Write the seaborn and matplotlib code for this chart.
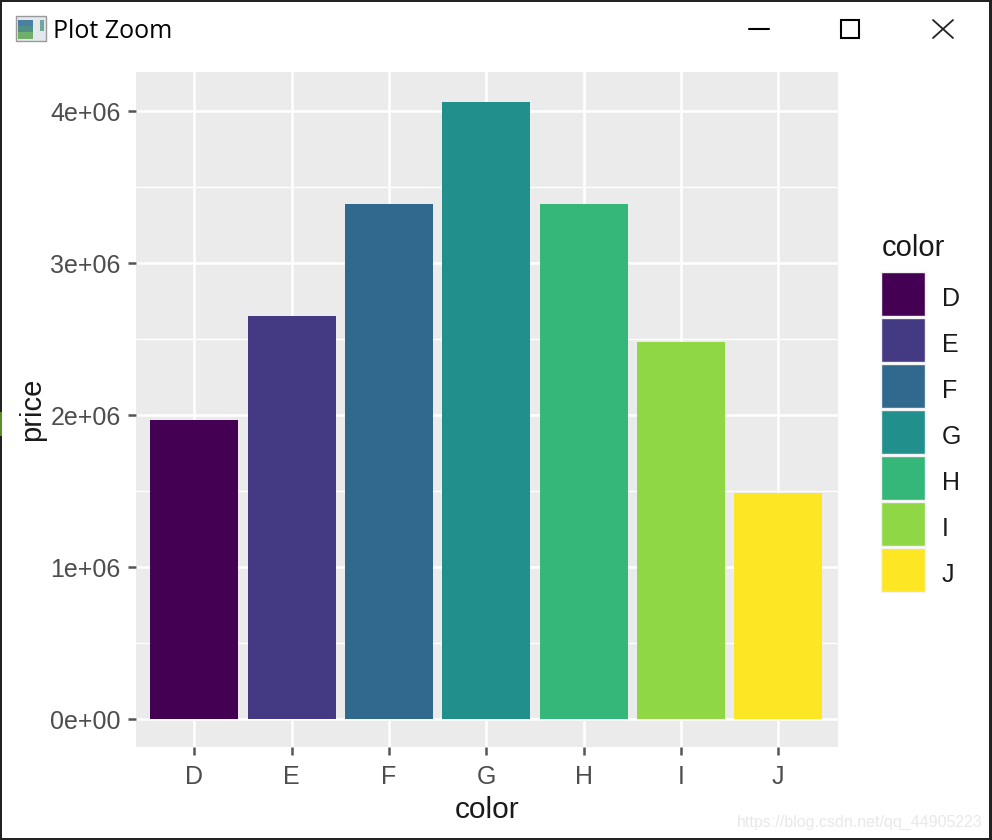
import matplotlib
matplotlib.use("Agg")
import matplotlib.pyplot as plt
from matplotlib.patches import Patch, Rectangle
from matplotlib.ticker import FixedLocator
import pandas as pd
import seaborn as sns

# ----------- Data -----------

colors = ["D", "E", "F", "G", "H", "I", "J"]
prices = [1.967e6, 2.650e6, 3.388e6, 4.060e6, 3.388e6, 2.480e6, 1.487e6]
bar_colors = ["#440154", "#443983", "#31688E", "#21908C", "#35B779", "#8FD744", "#FDE725"]
y_ticks = [0, 1e6, 2e6, 3e6, 4e6]
y_tick_labels = ["0e+00", "1e+06", "2e+06", "3e+06", "4e+06"]
y_minor_ticks = [0.5e6, 1.5e6, 2.5e6, 3.5e6]

df = pd.DataFrame({"color": colors, "price": prices})

# ----------- Theme -----------

sns.set_theme(style="darkgrid", rc={"axes.facecolor": "#EBEBEB", "grid.color": "white"})
plt.rcParams["font.family"] = ["Liberation Sans", "DejaVu Sans"]

W, H = 992, 840
fig = plt.figure(figsize=(W / 100, H / 100), dpi=100, facecolor="white")
ax = fig.add_axes([136 / W, 1 - 747 / H, 702 / W, 675 / H])

# ----------- Bars -----------

sns.barplot(data=df, x="color", y="price", hue="color", palette=bar_colors,
            width=0.905, saturation=1, dodge=False, legend=False, linewidth=0, ax=ax)

ax.set_xlim(-0.6, 6.615)
ax.set_ylim(-0.184e6, 4.257e6)
ax.set_yticks(y_ticks)
ax.set_yticklabels(y_tick_labels)
ax.yaxis.set_minor_locator(FixedLocator(y_minor_ticks))
ax.set_axisbelow(True)
ax.grid(which="major", color="white", linewidth=1.8)
ax.grid(which="minor", axis="y", color="white", linewidth=1.0)
ax.tick_params(axis="both", which="major", length=6, width=1.8, color="#555555",
               labelcolor="#4D4D4D", labelsize=18, pad=5, bottom=True, left=True)
ax.tick_params(axis="x", which="major", pad=7)
ax.tick_params(axis="y", which="minor", length=0)
for spine in ax.spines.values():
    spine.set_visible(False)

ax.set_xlabel("color", fontsize=21.5, color="#1A1A1A", labelpad=5)
ax.set_ylabel("price", fontsize=21, color="#1A1A1A", labelpad=3)

# ----------- Legend -----------

handles = [Patch(facecolor=c, edgecolor="#F2F2F2", linewidth=1, label=n)
           for c, n in zip(bar_colors, colors)]
leg = fig.legend(handles=handles, loc="upper left",
                 bbox_to_anchor=(871 / W, 1 - 262 / H), frameon=False,
                 fontsize=18, handlelength=1.76, handleheight=2.33, handletextpad=0.68,
                 labelspacing=0.08, borderaxespad=0)
for t in leg.get_texts():
    t.set_color("#1A1A1A")
    t.set_y(-4)
fig.text(882 / W, 1 - 248 / H, "color", fontsize=21, color="#1A1A1A", ha="left", va="center")

# ----------- Window chrome -----------

chrome = fig.add_axes([0, 0, 1, 1], facecolor="none")
chrome.set_xlim(0, W)
chrome.set_ylim(H, 0)
chrome.axis("off")

for box in [(0, 0, W, 2), (0, 838, W, 2), (0, 0, 2, H), (989, 0, 3, H)]:
    chrome.add_patch(Rectangle(box[:2], box[2], box[3], color="#222222", lw=0))
chrome.add_patch(Rectangle((0, 412), 2, 24, color="#5E8C2A", lw=0))

# icon
chrome.add_patch(Rectangle((16, 16), 30, 25, facecolor="#E4E8EC", edgecolor="#9A9A9A", lw=1))
chrome.add_patch(Rectangle((18, 20), 15, 19, color="#4F8F86", lw=0))
chrome.add_patch(Rectangle((18, 20), 15, 6, color="#4A7EA3", lw=0))
chrome.add_patch(Rectangle((18, 32), 15, 7, color="#6FAF6A", lw=0))
chrome.add_patch(Rectangle((40, 20), 4, 11, color="#6FA89A", lw=0))

chrome.text(53, 32, "Plot Zoom", fontsize=18, color="black", va="center", ha="left",
            family=["Open Sans", "DejaVu Sans"])

# window buttons
chrome.plot([749, 769], [29, 29], color="black", lw=1.5)
chrome.add_patch(Rectangle((841, 20), 18, 18, facecolor="none", edgecolor="black", lw=1.5))
chrome.plot([933, 953], [20, 38], color="#222222", lw=1.3)
chrome.plot([933, 953], [38, 20], color="#222222", lw=1.3)

chrome.text(983, 822, "https://blog.csdn.net/qq_44905223", fontsize=11.5, color="#E8E8E8",
            va="center", ha="right")

fig.savefig("out.png", dpi=100)
plt.close(fig)
